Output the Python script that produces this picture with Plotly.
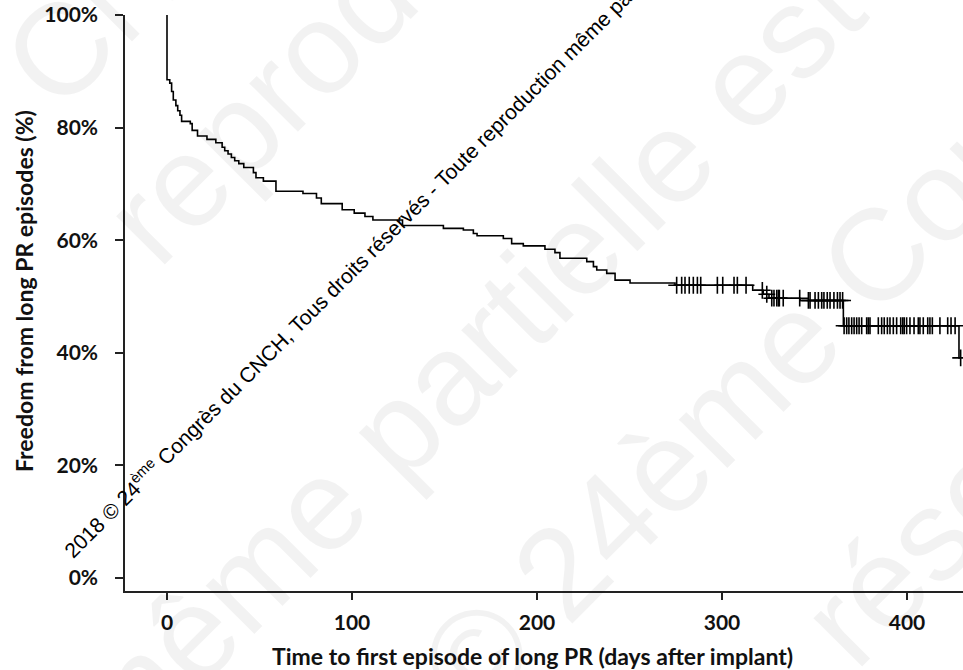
import plotly.graph_objects as go

# ---- data ----
event_days = [0, 1.5, 2.5, 3.4, 4.8, 5.8, 7.0, 7.9, 12.6, 13.6, 16.5, 21.6, 26.4, 29.8,
              31.2, 33.0, 34.8, 36.6, 38.8, 41.5, 46.7, 48.1, 52.1, 58.9, 73.5, 80.8,
              83.4, 94.7, 101.2, 107.0, 111.3, 127.3, 149.4, 160.2, 165.6, 167.6, 181.8,
              186.3, 192.6, 204.3, 209.7, 212.4, 226.9, 230.5, 232.3, 237.7, 242.2,
              250.3, 274.6, 316.6, 322.3, 325.4, 342.2, 365.6, 428.1]
survival_pct = [88.5, 87.9, 86.4, 84.9, 83.9, 83.0, 82.2, 81.1, 80.7, 79.5, 78.5, 77.9,
                77.3, 76.5, 75.9, 75.3, 74.7, 74.1, 73.6, 72.9, 72.0, 71.1, 70.5, 68.7,
                68.3, 67.5, 66.5, 65.4, 64.8, 64.2, 63.6, 62.6, 62.1, 61.8, 61.2, 60.8,
                60.3, 59.4, 59.0, 58.4, 57.8, 56.8, 56.2, 55.3, 54.7, 54.1, 52.9, 52.4,
                52.0, 51.1, 50.4, 49.7, 49.3, 44.8, 39.1]
censor_days = [275.5, 278.2, 280.0, 282.3, 284.5, 286.7, 288.5, 297.5, 300.4, 306.5,
               308.3, 313.0, 321.8, 324.2, 326.9, 328.1, 329.6, 330.5, 331.0, 333.1,
               342.0, 346.7, 347.6, 350.3, 352.1, 353.9, 355.1, 356.9, 358.4, 360.5,
               362.4, 363.8, 365.2, 366.0, 367.4, 368.6, 370.1, 371.4, 372.8, 374.1,
               375.5, 378.2, 379.1, 380.0, 384.5, 386.3, 387.7, 389.4, 390.8, 392.6,
               394.4, 396.6, 397.7, 398.5, 399.8, 401.6, 403.8, 406.1, 407.0, 408.8,
               411.2, 412.4, 413.7, 417.8, 422.0, 423.8, 426.0, 429.0]
x_ticks = [0, 100, 200, 300, 400]
x_tick_labels = ["0", "100", "200", "300", "400"]
y_ticks = [0, 20, 40, 60, 80, 100]
y_tick_labels = ["0%", "20%", "40%", "60%", "80%", "100%"]
x_title = "Time to first episode of long PR (days after implant)"
y_title = "Freedom from long PR episodes (%)"


def level_at(t):
    lv = 100.0
    for d, s in zip(event_days, survival_pct):
        if d <= t:
            lv = s
    return lv


line_x = [0] + event_days + [censor_days[-1]]
line_y = [100] + survival_pct + [survival_pct[-1]]
cens_y = [level_at(t) for t in censor_days]

fig = go.Figure()
fig.add_trace(go.Scatter(x=line_x, y=line_y, mode="lines", line_shape="hv",
                         line=dict(color="black", width=1.6), showlegend=False,
                         hoverinfo="skip", cliponaxis=False))
fig.add_trace(go.Scatter(x=censor_days, y=cens_y, mode="markers",
                         marker=dict(symbol="cross-thin", size=12,
                                     line=dict(color="black", width=1.6)),
                         showlegend=False, cliponaxis=False))

# body margin is removed by the post script, so figure px == page px
W, H = 963, 670
L, T = 125, 15
B = H - 591
R = 0
pw, ph = W - L - R, H - T - B


def paper(px, py):
    return (px - L) / pw, (H - B - py) / ph


ann = []
wm_color = "rgba(0,0,0,0.05)"
for txt, cx, cy in [("même partielle est", 464, 361),
                    ("© 24ème Congrès", 816, 316),
                    ("réservés", 1000, 465),
                    ("reproduction", 382, -16),
                    ("CNCH,", 172, -62)]:
    ax, ay = paper(cx, cy)
    ann.append(dict(text=txt, x=ax, y=ay, xref="paper", yref="paper",
                    xanchor="center", yanchor="middle", showarrow=False,
                    textangle=-45,
                    font=dict(family="Liberation Sans, Arial", size=130, color=wm_color)))

ax, ay = paper(405, 215)
ann.append(dict(text="2018 © 24<sup>ème</sup> Congrès du CNCH, Tous droits réservés - "
                     "Toute reproduction même partielle est interdite",
                x=ax, y=ay, xref="paper", yref="paper", xanchor="center", yanchor="middle",
                showarrow=False, textangle=-45,
                font=dict(family="Liberation Sans, Arial", size=21, color="black")))

ax, ay = paper(532, 656)
ann.append(dict(text=x_title, x=ax, y=ay, xref="paper", yref="paper",
                xanchor="center", yanchor="middle", showarrow=False,
                font=dict(family="Lato", size=23, color="#111111", weight="bold")))
ax, ay = paper(24, 291)
ann.append(dict(text=y_title, x=ax, y=ay, xref="paper", yref="paper",
                xanchor="center", yanchor="middle", showarrow=False, textangle=-90,
                font=dict(family="Lato", size=23, color="#111111", weight="bold")))

axis_common = dict(showgrid=False, zeroline=False, showline=True, linecolor="#222222",
                   linewidth=1.5, ticks="outside", tickcolor="#222222", tickwidth=1.5,
                   ticklabeloverflow="allow", automargin=False,
                   tickfont=dict(family="Lato", size=21, color="#111111", weight="bold"))

x_right = -22.7 + pw / 1.85
fig.update_layout(
    width=W, height=H, margin=dict(l=L, r=R, t=T, b=B, pad=0, autoexpand=False),
    paper_bgcolor="white", plot_bgcolor="white",
    xaxis=dict(range=[-22.7, x_right], tickvals=x_ticks, ticktext=x_tick_labels,
               ticklen=7, ticklabelstandoff=5, **axis_common),
    yaxis=dict(range=[-2.31, 100], tickvals=y_ticks, ticktext=y_tick_labels, ticklen=8,
               ticklabelstandoff=13, **axis_common),
    annotations=ann,
)

fig.write_html("out.html", config={"displayModeBar": False},
               post_script="document.body.style.margin='0';document.body.style.overflow='hidden';")
